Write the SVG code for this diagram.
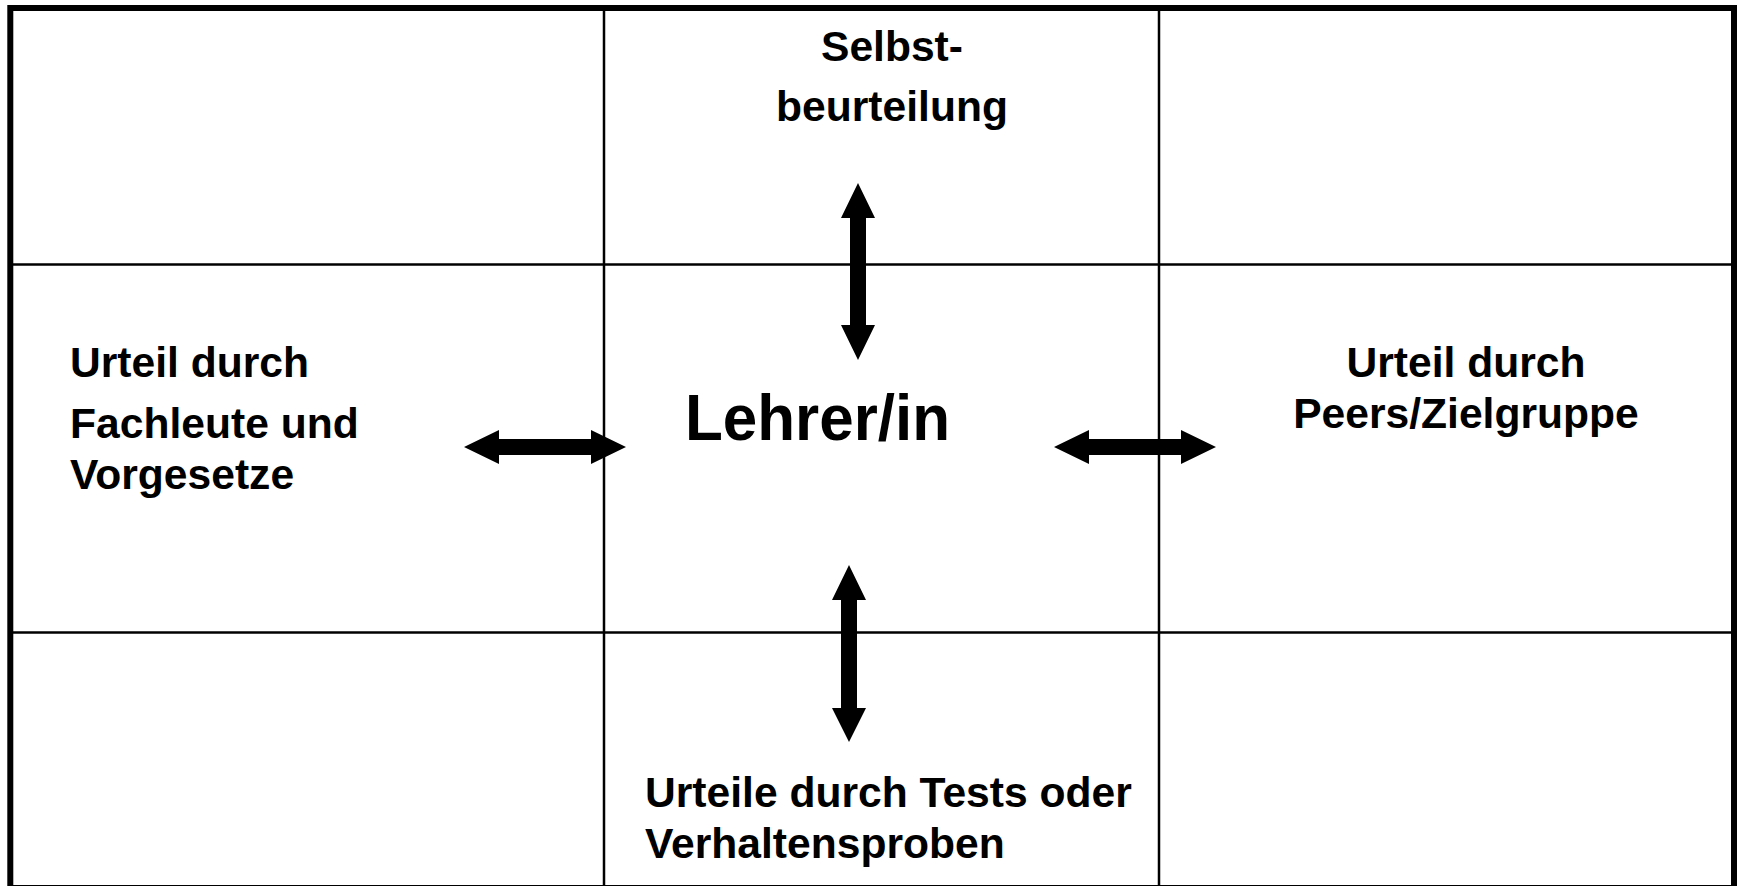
<svg xmlns="http://www.w3.org/2000/svg" width="1738" height="886" viewBox="0 0 1738 886">
<style>
.t{font-family:"Liberation Sans",Arial,sans-serif;font-weight:bold;font-size:42.6px;fill:#000}
.big{font-size:65px}
.grid{stroke:#000;stroke-width:2.5;fill:none}
.frame{stroke:#000;stroke-width:6;fill:#fff}
.arrow{fill:#000;stroke:none}
</style>
<rect width="1738" height="886" fill="#fff"/>
<g id="frame">
<rect class="frame" x="10.3" y="8" width="1723.7" height="880"/>
<line class="grid" x1="604" y1="8" x2="604" y2="888"/>
<line class="grid" x1="1159" y1="8" x2="1159" y2="888"/>
<line class="grid" x1="10" y1="264.5" x2="1734" y2="264.5"/>
<line class="grid" x1="10" y1="632.5" x2="1734" y2="632.5"/>
</g>
<g id="node-selbst">
<text class="t" x="892" y="61" text-anchor="middle">Selbst-</text>
<text class="t" x="892" y="121" text-anchor="middle">beurteilung</text>
</g>
<g id="node-fachleute">
<text class="t" x="70" y="377">Urteil durch</text>
<text class="t" x="70" y="438">Fachleute und</text>
<text class="t" x="70" y="489">Vorgesetze</text>
</g>
<g id="node-lehrer">
<text class="t big" x="685" y="440" textLength="265" lengthAdjust="spacingAndGlyphs">Lehrer/in</text>
</g>
<g id="node-peers">
<text class="t" x="1466" y="377" text-anchor="middle">Urteil durch</text>
<text class="t" x="1466" y="428" text-anchor="middle">Peers/Zielgruppe</text>
</g>
<g id="node-tests">
<text class="t" x="645" y="807">Urteile durch Tests oder</text>
<text class="t" x="645" y="858">Verhaltensproben</text>
</g>
<g id="connectors">
<polygon class="arrow" points="464,447 499,430 499,439 591,439 591,430 626,447 591,464 591,455 499,455 499,464"/>
<polygon class="arrow" points="1054,447 1089,430 1089,439 1181,439 1181,430 1216,447 1181,464 1181,455 1089,455 1089,464"/>
<polygon class="arrow" points="858,183 875,218 866,218 866,325 875,325 858,360 841,325 850,325 850,218 841,218"/>
<polygon class="arrow" points="849,565 866,600 857,600 857,708 866,708 849,742 832,708 841,708 841,600 832,600"/>
</g>
</svg>
